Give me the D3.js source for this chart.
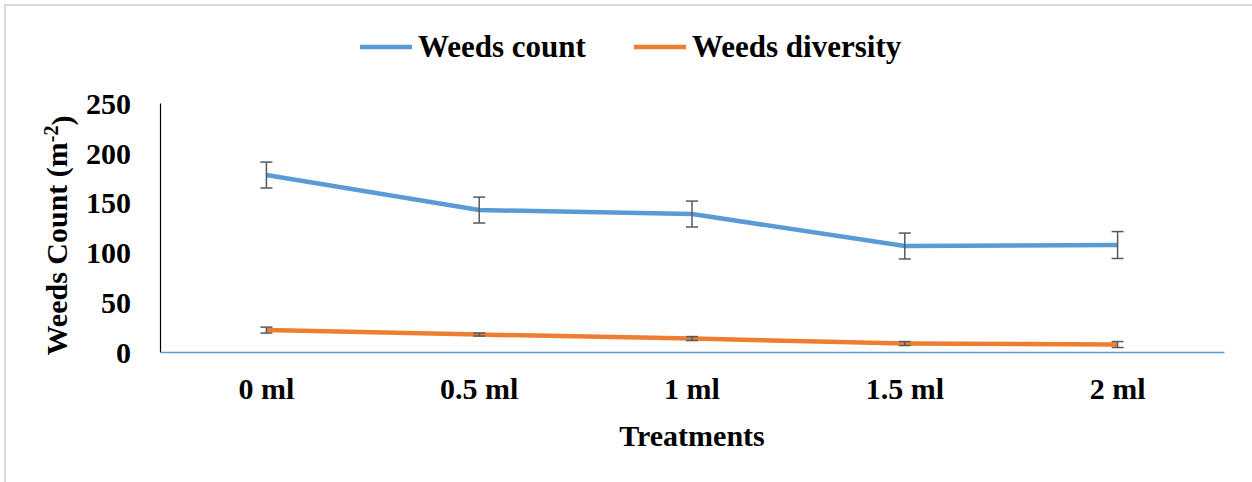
<!DOCTYPE html>
<html>
<head>
<meta charset="utf-8">
<script src="https://cdn.jsdelivr.net/npm/d3@7"></script>
<style>
  html, body { margin: 0; padding: 0; background: #fff; }
  svg { display: block; }
  text { font-family: "Liberation Serif", "Times New Roman", serif; font-weight: bold; fill: #000; }
</style>
</head>
<body>
<svg id="chart" width="1252" height="482"></svg>
<script>
// Treatments on the x axis
const treatments = ["0 ml", "0.5 ml", "1 ml", "1.5 ml", "2 ml"];
// Weeds count per m² with standard error
const weedsCount = [177.7, 142.5, 138.5, 106.4, 107.4];
const weedsCountErr = [13, 13, 13, 13, 13.5];
// Weeds diversity with standard error
const weedsDiversity = [22, 17.5, 13.5, 8.5, 7.5];
const weedsDiversityErr = [3, 1.5, 2, 2, 3];
const yTicks = [0, 50, 100, 150, 200, 250];

const series = [
  { name: "Weeds count", values: weedsCount, errors: weedsCountErr, color: "#5B9BD5" },
  { name: "Weeds diversity", values: weedsDiversity, errors: weedsDiversityErr, color: "#ED7D31" }
];

const svg = d3.select("#chart");

// outer frame (top and left edges)
svg.append("path")
  .attr("d", "M5,482 V5 H1252")
  .attr("fill", "none")
  .attr("stroke", "#d9d9d9")
  .attr("stroke-width", 2);

const plotLeft = 160, plotRight = 1224, plotTop = 103, plotBottom = 352;

const x = d3.scaleBand().domain(treatments).range([plotLeft, plotRight]);
const y = d3.scaleLinear().domain([0, 250]).range([plotBottom, plotTop]);
const cx = d => x(d) + x.bandwidth() / 2;

// y axis
const yAxis = svg.append("g")
  .attr("transform", `translate(${plotLeft},0)`)
  .call(d3.axisLeft(y).tickValues(yTicks).tickSize(0).tickPadding(29));
yAxis.select(".domain").attr("stroke", "#000").attr("stroke-width", 1.2);
yAxis.selectAll("text").style("font-size", "30px").attr("dy", "0.34em");

// x axis
const xAxis = svg.append("g")
  .attr("transform", `translate(0,${plotBottom})`)
  .call(d3.axisBottom(x).tickSize(0).tickPadding(26));
xAxis.select(".domain").attr("stroke", "#5B9BD5").attr("stroke-width", 1.5);
xAxis.selectAll("text").style("font-size", "30px");

// axis titles
svg.append("text")
  .attr("x", (plotLeft + plotRight) / 2)
  .attr("y", 446)
  .attr("text-anchor", "middle")
  .style("font-size", "30px")
  .text("Treatments");

const yTitle = svg.append("text")
  .attr("transform", `translate(67,${(plotTop + plotBottom) / 2 + 8}) rotate(-90)`)
  .attr("text-anchor", "middle")
  .style("font-size", "30px");
yTitle.append("tspan").text("Weeds Count (m");
yTitle.append("tspan").attr("dy", "-0.45em").style("font-size", "20px").text("-2");
yTitle.append("tspan").attr("dy", "0.45em").text(")");

// lines
const line = d3.line().x((d, i) => cx(treatments[i])).y(d => y(d));

series.forEach(s => {
  svg.append("path")
    .datum(s.values)
    .attr("d", line)
    .attr("fill", "none")
    .attr("stroke", s.color)
    .attr("stroke-width", 4.5)
    .attr("stroke-linejoin", "round");

  const eb = svg.append("g").attr("stroke", "#595959").attr("stroke-width", 1.5).attr("fill", "none");
  s.values.forEach((v, i) => {
    const px = cx(treatments[i]);
    const y1 = y(v + s.errors[i]), y2 = y(v - s.errors[i]);
    eb.append("line").attr("x1", px).attr("x2", px).attr("y1", y1).attr("y2", y2);
    eb.append("line").attr("x1", px - 6).attr("x2", px + 6).attr("y1", y1).attr("y2", y1);
    eb.append("line").attr("x1", px - 6).attr("x2", px + 6).attr("y1", y2).attr("y2", y2);
  });
});

// legend
const legendItems = [
  { x: 360, textX: 418 },
  { x: 634, textX: 692 }
];
series.forEach((s, i) => {
  const g = svg.append("g");
  g.append("line")
    .attr("x1", legendItems[i].x).attr("x2", legendItems[i].x + 52)
    .attr("y1", 47).attr("y2", 47)
    .attr("stroke", s.color).attr("stroke-width", 4.5);
  g.append("text")
    .attr("x", legendItems[i].textX).attr("y", 57)
    .style("font-size", "31px")
    .text(s.name);
});
</script>
</body>
</html>
